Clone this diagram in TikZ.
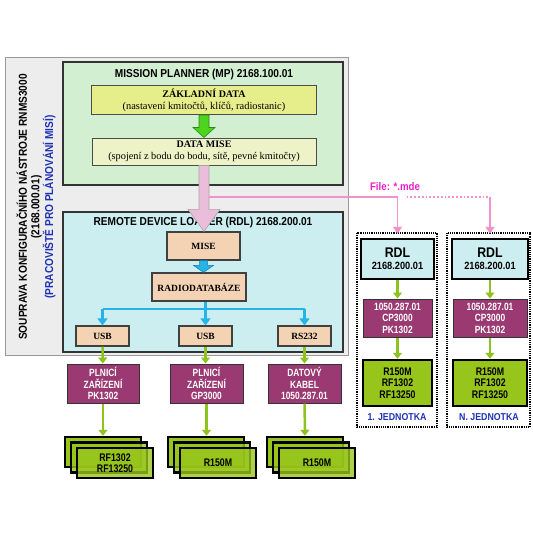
\documentclass[tikz,border=0pt]{standalone}
\usepackage{fontspec}
\setmainfont{Liberation Serif}
\newfontfamily\narrowsf[FakeStretch=0.88]{Liberation Sans}
\newfontfamily\condsf[FakeStretch=0.8]{Liberation Sans}
\usetikzlibrary{arrows.meta,calc}

\definecolor{shellgray}{HTML}{EDEDED}
\definecolor{mpgreen}{HTML}{D3EFD2}
\definecolor{zdyellow}{HTML}{E6EE8C}
\definecolor{dmyellow}{HTML}{EDF3C6}
\definecolor{rdlcyan}{HTML}{CDEEF0}
\definecolor{peach}{HTML}{F3D3B3}
\definecolor{plum}{HTML}{9B3A72}
\definecolor{lime}{HTML}{98C51C}
\definecolor{arrowlime}{HTML}{8EC21E}
\definecolor{sky}{HTML}{25B4E8}
\definecolor{filepink}{HTML}{F291CB}
\definecolor{filemag}{HTML}{E81EC8}
\definecolor{unitblue}{HTML}{1E32B4}

% vertical block arrow: from, to, style, half shaft, half head, head length
\newcommand\blockarr[6]{%
  \filldraw[#3] ($(#1)+(-#4,0)$) -- ($(#2)+(-#4,-#6)$) -- ($(#2)+(-#5,-#6)$)
    -- (#2) -- ($(#2)+(#5,-#6)$) -- ($(#2)+(#4,-#6)$) -- ($(#1)+(#4,0)$) -- cycle;}

\begin{document}
\begin{tikzpicture}[x=1pt,y=-1pt,
    sansb/.style={font=\narrowsf\bfseries\fontsize{11.5}{12.5}\selectfont},
    peachbox/.style={draw=black!75,line width=1.2pt,fill=peach,inner sep=0pt,
        font=\bfseries\fontsize{9.5}{11}\selectfont},
    plumbox/.style={draw=black!80,line width=1pt,fill=plum,text=white,align=center,
        inner sep=0pt,font=\condsf\bfseries\fontsize{10.5}{11.5}\selectfont},
    limebox/.style={draw=black,line width=2.5pt,fill=lime,align=center,inner sep=0pt,
        font=\condsf\bfseries\fontsize{11}{11.5}\selectfont},
    rdlbox/.style={draw=black,line width=2.5pt,fill=rdlcyan,align=center,inner sep=0pt,
        font=\narrowsf\bfseries},
    limearrow/.style={draw=arrowlime,line width=2.5pt,-{Triangle[width=9pt,length=6pt]}},
    skyline/.style={draw=sky,line width=2.5pt},
    pinkline/.style={draw=filepink,line width=1.8pt}]
    \useasboundingbox (0,0) rectangle (533,533);

    % workstation frame
    \draw[draw=gray!80,fill=shellgray] (5,57) rectangle (348,355);
    \node[sansb,rotate=90,align=center] (kit) at (36,207)
        {SOUPRAVA KONFIGURAČNÍHO NÁSTROJE RNMS3000\\(2168.000.01)\\
         \color{unitblue}(PRACOVIŠTĚ PRO PLÁNOVÁNÍ MISÍ)};

    % mission planner
    \draw[draw=black!80,line width=1.5pt,fill=mpgreen] (63,62) rectangle (343,185);
    \node[sansb] (mptitle) at (204,75) {MISSION PLANNER (MP) 2168.100.01};
    \node[draw=black!70,line width=1pt,fill=zdyellow,minimum width=225pt,minimum height=29pt,
        inner sep=0pt,align=center,font=\fontsize{10.4}{12}\selectfont] (zakl) at (204,100)
        {{\fontsize{10}{12}\selectfont\textbf{ZÁKLADNÍ DATA}}\\(nastavení kmitočtů, klíčů, radiostanic)};
    \node[draw=black!70,line width=1pt,fill=dmyellow,minimum width=224pt,minimum height=27pt,
        inner sep=0pt,align=center,font=\fontsize{10.3}{11.5}\selectfont] (dmise) at (204,151.5)
        {{\fontsize{10}{11.5}\selectfont\textbf{DATA MISE}}\\(spojení z bodu do bodu, sítě, pevné kmitočty)};
    \blockarr{zakl.south}{zakl.south |- dmise.north}{fill={rgb,255:red,76;green,212;blue,30},
        draw={rgb,255:red,42;green,138;blue,16},line width=0.6pt}{5}{11}{10}

    % remote device loader
    \draw[draw=black!80,line width=1.5pt,fill=rdlcyan] (63,212) rectangle (343,352);
    \node[sansb] (rdltitle) at (203,223) {REMOTE DEVICE LOADER (RDL) 2168.200.01};
    \node[peachbox,minimum width=73pt,minimum height=28pt] (mise) at (203.5,246) {MISE};
    \node[peachbox,minimum width=94pt,minimum height=28pt] (radio) at (199,287) {RADIODATABÁZE};
    \node[peachbox,minimum width=53pt,minimum height=20pt] (usbA) at (102.5,336) {USB};
    \node[peachbox,minimum width=53pt,minimum height=20pt] (usbB) at (205.5,336) {USB};
    \node[peachbox,minimum width=53pt,minimum height=20pt] (rsC) at (304.5,336) {RS232};
    \blockarr{mise.south}{mise.south |- radio.north}{fill=sky,draw=sky!70!black,line width=0.5pt}{4}{10}{7}

    \coordinate (split) at (205.5,309);
    \draw[skyline] (radio.south -| split) -- (split);
    \draw[skyline] (usbA.north |- split) -- (rsC.north |- split);
    \foreach \u in {usbA,usbB,rsC}
        \draw[skyline,-{Triangle[width=10pt,length=7pt]}] (\u.north |- split) -- (\u.north);

    % file transfer to the units
    \blockarr{dmise.south}{dmise.south |- mise.north}{fill={rgb,255:red,234;green,190;blue,218},
        draw=gray!70,line width=0.6pt}{5}{16}{22}

    % loaders below the workstation
    \node[plumbox,minimum width=72pt,minimum height=39pt] (pkA) at (103,383.5) {PLNICÍ\\ZAŘÍZENÍ\\PK1302};
    \node[plumbox,minimum width=73pt,minimum height=39pt] (gpB) at (206.5,383.5) {PLNICÍ\\ZAŘÍZENÍ\\GP3000};
    \node[plumbox,minimum width=73pt,minimum height=39pt] (kbC) at (304.5,383.5) {DATOVÝ\\KABEL\\1050.287.01};
    \draw[limearrow] (usbA) -- (pkA);
    \draw[limearrow] (usbB.south) -- (usbB.south |- gpB.north);
    \draw[limearrow] (rsC) -- (kbC);

    % radios, stacked
    \node[limebox,minimum width=76pt,minimum height=30pt] (stA) at (103,452) {};
    \node[limebox,fill opacity=0.8,minimum width=76pt,minimum height=30pt] at ($(stA)+(6,5.5)$) {};
    \node[limebox,fill opacity=0.8,text opacity=1,minimum width=76pt,minimum height=30pt] (stAf)
        at ($(stA)+(12,11)$) {RF1302\\RF13250};
    \node[limebox,minimum width=76pt,minimum height=30pt] (stB) at (206,452) {};
    \node[limebox,fill opacity=0.8,minimum width=76pt,minimum height=30pt] at ($(stB)+(6,5.5)$) {};
    \node[limebox,fill opacity=0.8,text opacity=1,minimum width=76pt,minimum height=30pt] (stBf)
        at ($(stB)+(12,11)$) {R150M};
    \node[limebox,minimum width=76pt,minimum height=30pt] (stC) at (305,452) {};
    \node[limebox,fill opacity=0.8,minimum width=76pt,minimum height=30pt] at ($(stC)+(6,5.5)$) {};
    \node[limebox,fill opacity=0.8,text opacity=1,minimum width=76pt,minimum height=30pt] (stCf)
        at ($(stC)+(12,11)$) {R150M};
    \draw[limearrow] (pkA) -- (stA);
    \draw[limearrow] (gpB.south) -- (gpB.south |- stB.north);
    \draw[limearrow] (kbC) -- (stC);

    % field units
    \draw[densely dotted,line width=1.2pt] (357,233) rectangle (437,427);
    \draw[densely dotted,line width=1.2pt] (447,233) rectangle (530,427);
    \node[rdlbox,minimum width=73pt,minimum height=40pt] (rdlA) at (397.5,259)
        {{\fontsize{14}{15}\selectfont RDL}\\{\fontsize{10.5}{12}\selectfont 2168.200.01}};
    \node[plumbox,minimum width=69pt,minimum height=38pt] (cpA) at (397.5,318) {1050.287.01\\CP3000\\PK1302};
    \node[limebox,minimum width=69pt,minimum height=46pt] (raA) at (397.5,383) {R150M\\RF1302\\RF13250};
    \node[text=unitblue,font=\narrowsf\bfseries\fontsize{10}{12}\selectfont] (unitA) at (397,417) {1. JEDNOTKA};
    \node[rdlbox,minimum width=76pt,minimum height=40pt] (rdlB) at (490,259)
        {{\fontsize{14}{15}\selectfont RDL}\\{\fontsize{10.5}{12}\selectfont 2168.200.01}};
    \node[plumbox,minimum width=74pt,minimum height=38pt] (cpB) at (490,318) {1050.287.01\\CP3000\\PK1302};
    \node[limebox,minimum width=74pt,minimum height=46pt] (raB) at (490,383) {R150M\\RF1302\\RF13250};
    \node[text=unitblue,font=\narrowsf\bfseries\fontsize{10}{12}\selectfont] (unitB) at (489,417) {N. JEDNOTKA};
    \draw[limearrow] (rdlA) -- (cpA);
    \draw[limearrow] (cpA) -- (raA);
    \draw[limearrow] (rdlB) -- (cpB);
    \draw[limearrow] (cpB) -- (raB);

    \coordinate (fork) at (209,197);
    \draw[pinkline,-{Triangle[width=9pt,length=7pt]},shorten >=4pt] (fork) -| (rdlA.north);
    \draw[pinkline,dotted,line width=2.2pt] ($(rdlA.north |- fork)+(9,0)$) -- (rdlB.north |- fork);
    \draw[pinkline,-{Triangle[width=9pt,length=7pt]},shorten >=4pt] (rdlB.north |- fork) -- (rdlB.north);
    \node[text=filemag,font=\narrowsf\bfseries\fontsize{11}{12}\selectfont] (mde) at (395,187) {File: *.mde};
\end{tikzpicture}
\end{document}
